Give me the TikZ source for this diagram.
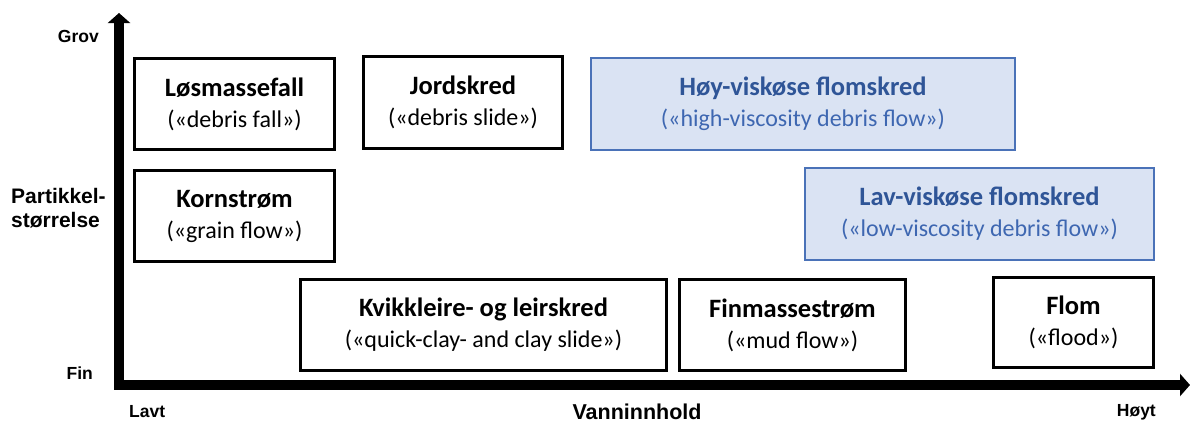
\documentclass[tikz,border=0pt]{standalone}
\usepackage{fontspec}
\setmainfont{Carlito}
\newfontfamily\axfont{Liberation Sans}
\usetikzlibrary{arrows.meta}
\definecolor{bfill}{HTML}{DAE3F3}
\definecolor{bdraw}{HTML}{4A72B8}
\definecolor{btext}{HTML}{2F5597}
\definecolor{bsub}{HTML}{3E67B1}
\newcommand{\ttl}[1]{{\fontsize{26.5}{31}\selectfont\bfseries #1}}
\tikzset{
  box/.style={draw=black, line width=2.6pt, fill=white, inner sep=0pt, align=center,
    font=\fontsize{24}{31}\selectfont},
  bluebox/.style={box, draw=bdraw, line width=2pt, fill=bfill, text=bsub},
  axisline/.style={line width=10pt, line join=miter,
    {Triangle[width=22pt,length=10pt]}-{Triangle[width=22pt,length=10pt]}},
  axlab/.style={font=\axfont\bfseries\fontsize{17.5}{20}\selectfont, inner sep=0pt},
  axbig/.style={font=\axfont\bfseries\fontsize{21}{24}\selectfont, inner sep=0pt},
}
\begin{document}
\begin{tikzpicture}[x=1pt,y=-1pt]
\useasboundingbox (0,0) rectangle (1190,423);

% axes
\coordinate (ytop) at (119,13);
\coordinate (org) at (119,385);
\coordinate (xend) at (1190,385);
\draw[axisline] (ytop) -- (org) -- (xend);

% boxes
\node[box, minimum width=200.4pt, minimum height=91.4pt] (los) at (234.5,104)
  {\ttl{Løsmassefall}\\(«debris fall»)};
\node[box, minimum width=199.4pt, minimum height=92.4pt] (jord) at (463,102.5)
  {\ttl{Jordskred}\\(«debris slide»)};
\node[bluebox, minimum width=424pt, minimum height=92pt] (hoy) at (803,104)
  {\ttl{\color{btext}Høy-viskøse flomskred}\\(«high-viscosity debris flow»)};
\node[box, minimum width=200.4pt, minimum height=91.4pt] (korn) at (234.5,216)
  {\ttl{Kornstrøm}\\(«grain flow»)};
\node[bluebox, minimum width=349pt, minimum height=92pt] (lav) at (979.5,214)
  {\ttl{\color{btext}Lav-viskøse flomskred}\\(«low-viscosity debris flow»)};
\node[box, minimum width=366.4pt, minimum height=91.4pt] (kvikk) at (483.5,325)
  {\ttl{Kvikkleire- og leirskred}\\(«quick-clay- and clay slide»)};
\node[box, minimum width=226.4pt, minimum height=91.4pt] (finm) at (792.5,325)
  {\ttl{Finmassestrøm}\\(«mud flow»)};
\node[box, minimum width=160.4pt, minimum height=90.4pt] (flom) at (1073.5,322.5)
  {\ttl{Flom}\\(«flood»)};

% axis labels
\node[axlab, anchor=base east] (grov) at (99,42) {Grov};
\node[axbig, align=left, anchor=west] (part) at (11,208) {Partikkel-\\størrelse};
\node[axlab, anchor=base east] (fin) at (93,379) {Fin};
\node[axlab, anchor=base west] (lavt) at (129,417) {Lavt};
\node[axbig, font=\axfont\bfseries\fontsize{21.5}{24}\selectfont, anchor=base] (vann) at (637,419) {Vanninnhold};
\node[axlab, anchor=base east] (hoyt) at (1156,416) {Høyt};
\end{tikzpicture}
\end{document}
